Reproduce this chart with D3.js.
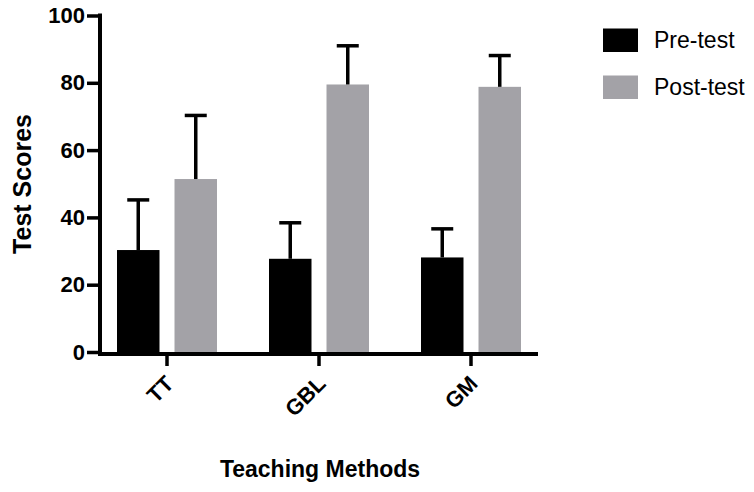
<!DOCTYPE html>
<html><head><meta charset="utf-8">
<script src="https://cdn.jsdelivr.net/npm/d3@7"></script>
<style>body{margin:0;background:#fff}svg{display:block}text{font-family:"Liberation Sans",Arial,Helvetica,sans-serif}</style>
</head><body><svg id="c" width="754" height="492"></svg>
<script>
const categories = ["TT", "GBL", "GM"];
const seriesNames = ["Pre-test", "Post-test"];
const preMeans = [30.3, 27.7, 28.1];
const preErrors = [14.9, 10.7, 8.5];
const postMeans = [51.4, 79.5, 78.8];
const postErrors = [18.9, 11.5, 9.3];
const yTicks = [0, 20, 40, 60, 80, 100];
const colors = ["#000000", "#a3a2a7"];

const svg = d3.select("#c");
const y = d3.scaleLinear().domain([0, 100]).range([352, 15.5]);
const x = d3.scaleBand().domain(categories).range([91, 547]);
const xs = d3.scaleBand().domain(seriesNames).range([26, 126]).paddingInner(0.261);

const data = [];
categories.forEach((c, i) => {
  data.push({cat: c, s: seriesNames[0], v: preMeans[i], e: preErrors[i]});
  data.push({cat: c, s: seriesNames[1], v: postMeans[i], e: postErrors[i]});
});
const col = d3.scaleOrdinal().domain(seriesNames).range(colors);

// bars
svg.append("g").selectAll("rect").data(data).join("rect")
  .attr("x", d => x(d.cat) + xs(d.s))
  .attr("width", xs.bandwidth())
  .attr("y", d => y(d.v))
  .attr("height", d => y(0) - y(d.v))
  .attr("fill", d => col(d.s));

// error bars
const eb = svg.append("g").attr("stroke", "#000").attr("stroke-width", 3.5);
data.forEach(d => {
  const cx = x(d.cat) + xs(d.s) + xs.bandwidth() / 2;
  eb.append("line").attr("x1", cx).attr("x2", cx).attr("y1", y(d.v)).attr("y2", y(d.v + d.e));
  eb.append("line").attr("x1", cx - 11).attr("x2", cx + 11).attr("y1", y(d.v + d.e)).attr("y2", y(d.v + d.e));
});

// y axis
const yAxis = d3.axisLeft(y).tickValues(yTicks).tickSize(13).tickPadding(2).tickSizeOuter(0);
const gy = svg.append("g").attr("transform", "translate(100,0)").call(yAxis);
gy.select(".domain").attr("stroke-width", 4).attr("d", `M0,${y(100) - 2}V${y(0) + 4}`);
gy.selectAll(".tick line").attr("stroke-width", 3.5);
gy.selectAll(".tick text").attr("font-size", 22).attr("font-weight", "bold").attr("fill", "#000");

// x axis
const xAxis = d3.axisBottom(x).tickSize(12).tickSizeOuter(0);
const gx = svg.append("g").attr("transform", `translate(0,${y(0) + 2})`).call(xAxis);
gx.select(".domain").attr("stroke-width", 4).attr("d", "M98,0H538");
gx.selectAll(".tick line").attr("stroke-width", 3.5);
gx.selectAll(".tick text").attr("font-size", 22).attr("font-weight", "bold").attr("fill", "#000")
  .attr("text-anchor", "end").attr("dy", null).attr("y", 0)
  .attr("transform", "translate(8,31) rotate(-45)");

// axis titles
svg.append("text").attr("x", 320).attr("y", 477).attr("text-anchor", "middle")
  .attr("font-size", 23).attr("font-weight", "bold").text("Teaching Methods");
svg.append("text").attr("transform", "translate(31,184) rotate(-90)").attr("text-anchor", "middle")
  .attr("font-size", 25).attr("font-weight", "bold").text("Test Scores");

// legend
const lg = svg.append("g");
seriesNames.forEach((s, i) => {
  lg.append("rect").attr("x", 603).attr("y", 28.5 + i * 47).attr("width", 35).attr("height", 23.5).attr("fill", col(s));
  lg.append("text").attr("x", 654).attr("y", 48 + i * 47).attr("font-size", 23).text(s);
});
</script></body></html>
